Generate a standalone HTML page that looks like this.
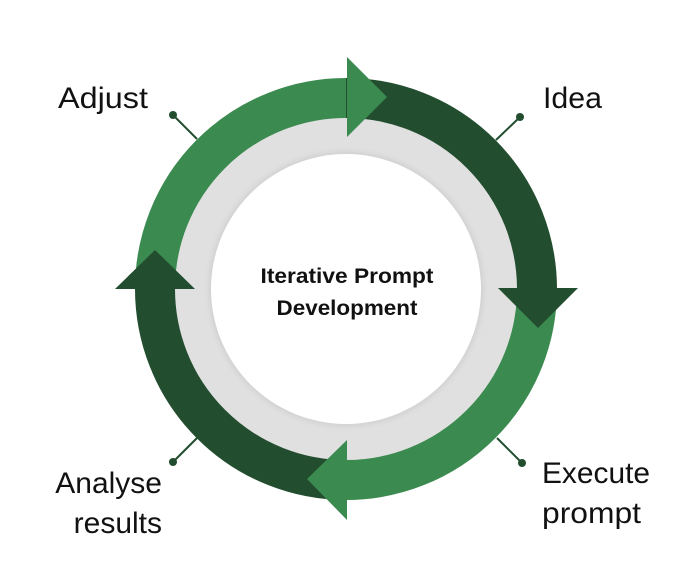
<!DOCTYPE html>
<html><head><meta charset="utf-8"><style>
html,body{margin:0;padding:0;background:#fff;}
svg{display:block;}
text{font-family:"Liberation Sans",Arial,sans-serif;}
</style></head><body>
<svg width="689" height="563" viewBox="0 0 689 563" xmlns="http://www.w3.org/2000/svg">
<defs>
<filter id="sh" x="-20%" y="-20%" width="140%" height="140%"><feGaussianBlur stdDeviation="3"/></filter>
</defs>
<circle cx="346" cy="289" r="172" fill="#e0e0e0"/>
<circle cx="346" cy="289" r="137" fill="#cfcfcf" filter="url(#sh)"/>
<circle cx="346" cy="289" r="135" fill="#ffffff"/>
<g fill="none" stroke-width="40">
<path d="M346 98 A191 191 0 0 1 537 289" stroke="#224d2f"/>
<path d="M537 289 A191 191 0 0 1 346 480" stroke="#3b8a4f"/>
<path d="M346 480 A191 191 0 0 1 155 289" stroke="#224d2f"/>
<path d="M155 289 A191 191 0 0 1 346 98" stroke="#3b8a4f"/>
</g>
<polygon points="347,57 347,137 387,97" fill="#3b8a4f"/>
<polygon points="498,288 578,288 538,328" fill="#224d2f"/>
<polygon points="347,440 347,520 307,479" fill="#3b8a4f"/>
<polygon points="115,289 195,289 155,250" fill="#224d2f"/>
<g stroke="#224d2f" stroke-width="2">
<line x1="173" y1="115" x2="197" y2="139"/>
<line x1="520" y1="117" x2="496" y2="140"/>
<line x1="522" y1="463" x2="497" y2="438"/>
<line x1="173" y1="462" x2="197" y2="438"/>
</g>
<g fill="#224d2f">
<circle cx="173" cy="115" r="4"/>
<circle cx="520" cy="117" r="4"/>
<circle cx="522" cy="463" r="4"/>
<circle cx="173" cy="462" r="4"/>
</g>
<g font-size="30" fill="#111">
<text x="58" y="108" textLength="90" lengthAdjust="spacingAndGlyphs">Adjust</text>
<text x="543" y="108" textLength="59" lengthAdjust="spacingAndGlyphs">Idea</text>
<text x="542" y="483" textLength="108" lengthAdjust="spacingAndGlyphs">Execute</text>
<text x="542" y="523" textLength="99" lengthAdjust="spacingAndGlyphs">prompt</text>
<text x="162" y="493" text-anchor="end">Analyse</text>
<text x="162" y="533" text-anchor="end">results</text>
</g>
<g font-size="21" font-weight="bold" fill="#111" text-anchor="middle">
<text x="347" y="283" textLength="173" lengthAdjust="spacingAndGlyphs">Iterative Prompt</text>
<text x="347" y="315" textLength="141" lengthAdjust="spacingAndGlyphs">Development</text>
</g>
</svg>
</body></html>
